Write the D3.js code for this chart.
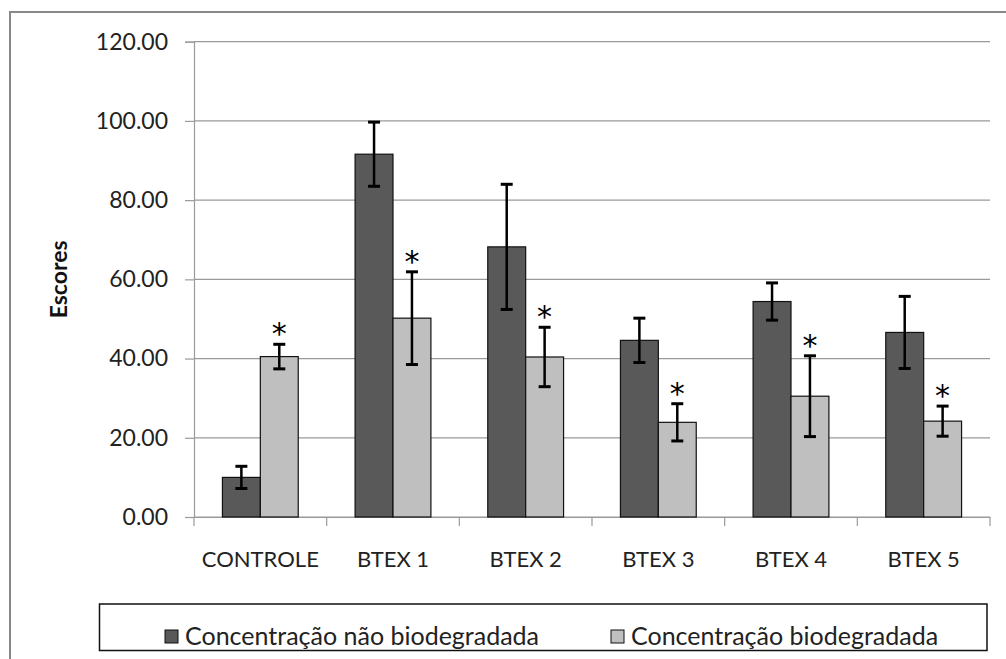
<!DOCTYPE html>
<html>
<head>
<meta charset="utf-8">
<script src="https://cdn.jsdelivr.net/npm/d3@7"></script>
<style>
  html, body { margin: 0; padding: 0; background: #fff; }
  svg { display: block; font-family: Lato, "Open Sans", sans-serif; }
</style>
</head>
<body>
<svg id="chart" width="1006" height="659"></svg>
<script>
// ---- data ----
const categories = ["CONTROLE", "BTEX 1", "BTEX 2", "BTEX 3", "BTEX 4", "BTEX 5"];
const seriesNames = ["Concentração não biodegradada", "Concentração biodegradada"];
const naoBiodegradada = [10.0, 91.6, 68.2, 44.6, 54.4, 46.6];
const naoBiodegradadaErr = [2.8, 8.1, 15.8, 5.6, 4.7, 9.1];
const biodegradada = [40.5, 50.2, 40.4, 23.9, 30.5, 24.2];
const biodegradadaErr = [3.1, 11.7, 7.5, 4.7, 10.2, 3.8];
const significant = [true, true, true, true, true, true];
const yTicks = [0, 20, 40, 60, 80, 100, 120];
const yLabel = "Escores";
const colors = ["#595959", "#bfbfbf"];

// ---- layout ----
const svg = d3.select("#chart");
const plot = { left: 194, right: 990, top: 41.7, bottom: 517 };

// outer frame (left and top edges visible)
svg.append("path")
  .attr("d", `M10,659 L10,12 L1006,12`)
  .attr("fill", "none").attr("stroke", "#888").attr("stroke-width", 2);

const x0 = d3.scaleBand().domain(categories).range([plot.left, plot.right]).paddingInner(0).paddingOuter(0);
const barW = x0.bandwidth() / 3.5;
const x1 = d3.scaleBand().domain([0, 1]).range([0, barW * 2]);
const y = d3.scaleLinear().domain([0, 120]).range([plot.bottom, plot.top]);

// gridlines
svg.append("g").selectAll("line").data(yTicks).join("line")
  .attr("x1", plot.left).attr("x2", plot.right)
  .attr("y1", d => y(d)).attr("y2", d => y(d))
  .attr("stroke", "#9a9a9a").attr("stroke-width", 1.2);

// y axis
const yAxis = d3.axisLeft(y).tickValues(yTicks).tickSize(9).tickPadding(17)
  .tickFormat(d3.format(".2f"));
const gy = svg.append("g").attr("transform", `translate(${plot.left},0)`).call(yAxis);
gy.select(".domain").attr("stroke", "#9a9a9a").attr("stroke-width", 1.2);
gy.selectAll(".tick line").attr("stroke", "#9a9a9a").attr("stroke-width", 1.2);
gy.selectAll(".tick text").attr("font-size", 23).attr("fill", "#222")
  .attr("font-family", "Lato, sans-serif");

// x axis
const xAxis = d3.axisBottom(x0).tickSize(0).tickPadding(0);
const gx = svg.append("g").attr("transform", `translate(0,${plot.bottom})`).call(xAxis);
gx.select(".domain").attr("stroke", "#9a9a9a").attr("stroke-width", 1.2);
gx.selectAll(".tick text").attr("font-size", 22).attr("fill", "#222")
  .attr("font-family", "Lato, sans-serif")
  .attr("dy", null).attr("y", 50);
// category separator ticks
const sepX = categories.map(c => x0(c)).concat([plot.right]);
gx.append("g").selectAll("line").data(sepX).join("line")
  .attr("x1", d => d).attr("x2", d => d).attr("y1", 0).attr("y2", 9)
  .attr("stroke", "#9a9a9a").attr("stroke-width", 1.2);

// y label
svg.append("text")
  .attr("transform", `translate(67,${(plot.top + plot.bottom) / 2}) rotate(-90)`)
  .attr("text-anchor", "middle")
  .attr("font-size", 23).attr("font-weight", "bold").attr("fill", "#111")
  .text(yLabel);

// bars
const series = [
  { vals: naoBiodegradada, errs: naoBiodegradadaErr },
  { vals: biodegradada, errs: biodegradadaErr }
];
const groups = svg.append("g").selectAll("g").data(categories).join("g")
  .attr("transform", c => `translate(${x0(c) + (x0.bandwidth() - barW * 2) / 2},0)`);

series.forEach((s, si) => {
  groups.append("rect")
    .attr("x", x1(si))
    .attr("y", (c, i) => y(s.vals[i]))
    .attr("width", x1.bandwidth())
    .attr("height", (c, i) => y(0) - y(s.vals[i]))
    .attr("fill", colors[si]).attr("stroke", "#111").attr("stroke-width", 1.2);
});

// error bars
series.forEach((s, si) => {
  const cx = x1(si) + x1.bandwidth() / 2;
  groups.append("line")
    .attr("x1", cx).attr("x2", cx)
    .attr("y1", (c, i) => y(s.vals[i] + s.errs[i]))
    .attr("y2", (c, i) => y(s.vals[i] - s.errs[i]))
    .attr("stroke", "#000").attr("stroke-width", 2.5);
  [1, -1].forEach(sign => {
    groups.append("line")
      .attr("x1", cx - 6).attr("x2", cx + 6)
      .attr("y1", (c, i) => y(s.vals[i] + sign * s.errs[i]))
      .attr("y2", (c, i) => y(s.vals[i] + sign * s.errs[i]))
      .attr("stroke", "#000").attr("stroke-width", 3);
  });
});

// significance asterisks
{
  const cx = x1(1) + x1.bandwidth() / 2;
  groups.filter((c, i) => significant[i]).append("text")
    .attr("x", cx)
    .attr("y", c => { const i = categories.indexOf(c); return y(biodegradada[i] + biodegradadaErr[i]) + 0; })
    .attr("text-anchor", "middle")
    .attr("font-size", 30).attr("fill", "#000")
    .attr("font-family", "DejaVu Sans, sans-serif")
    .text("*");
}

// legend
const lg = svg.append("g");
lg.append("rect").attr("x", 99.5).attr("y", 604).attr("width", 887.5).attr("height", 46.5)
  .attr("fill", "#fff").attr("stroke", "#111").attr("stroke-width", 1.5);
const legendX = [165, 611];
seriesNames.forEach((name, i) => {
  lg.append("rect").attr("x", legendX[i]).attr("y", 630).attr("width", 13).attr("height", 13)
    .attr("fill", colors[i]).attr("stroke", "#111").attr("stroke-width", 1);
  lg.append("text").attr("x", legendX[i] + 20).attr("y", 645)
    .attr("font-size", 25).attr("fill", "#222")
    .text(name);
});
</script>
</body>
</html>
